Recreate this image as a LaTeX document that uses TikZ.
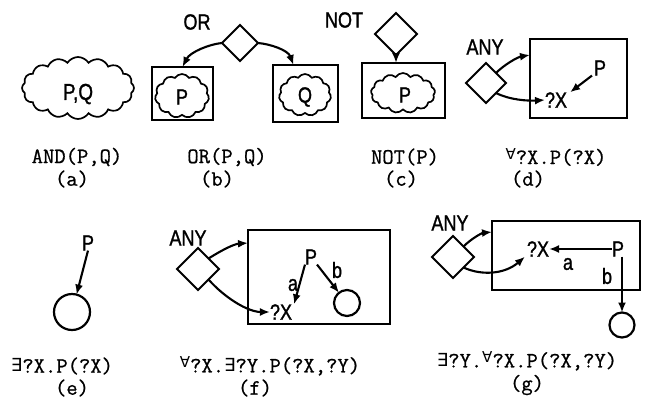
\documentclass[tikz,border=0pt]{standalone}
\usepackage{fontspec}
\newfontfamily\labf[FakeStretch=0.82,FakeBold=1.2]{Liberation Sans}
\newfontfamily\capf[FakeBold=0.8]{Latin Modern Mono}
\newfontfamily\symf{DejaVu Sans}
\usetikzlibrary{shapes.symbols,shapes.geometric,arrows.meta}
\newcommand{\fa}{\raisebox{5pt}{\symf\fontsize{15}{15}\selectfont ∀}}
\newcommand{\ex}{\raisebox{1pt}{\symf\fontsize{18}{18}\selectfont ∃}}
\begin{document}
\begin{tikzpicture}[x=1pt,y=-1pt,
  every node/.style={inner sep=0pt, outer sep=0pt},
  lab/.style={font=\labf\fontsize{22}{22}\selectfont},
  captxt/.style={font=\capf\fontsize{22}{22}\selectfont},
  dia/.style={draw, diamond, aspect=1, line width=2.1pt, minimum width=#1, minimum height=#1},
  dia/.default=40pt,
  box/.style={draw, rectangle, line width=2.2pt},
  cld/.style={draw, cloud, cloud puffs=#1, cloud puff arc=115, cloud ignores aspect, line width=1.7pt},
  cld/.default=11,
  circ/.style={draw, circle, line width=2.2pt},
  arr/.style={-{Latex[length=10pt,width=8pt]}, line width=2.1pt},
]
\useasboundingbox (0,0) rectangle (645,400);

% (a)
\node[cld=16, minimum width=112pt, minimum height=62pt] (cA) at (78,88) {};
\node[lab, font=\labf\fontsize{23}{23}\selectfont] (tA) at (78,94) {P,Q};
\node[captxt] (capA) at (77,157) {AND(P,Q)};
\node[captxt] (subA) at (72,179) {(a)};

% (b)
\node[lab] (orB) at (197,22) {OR};
\node[dia=36pt] (dB) at (240,43) {};
\node[box, minimum width=61pt, minimum height=53pt] (bxP) at (182.5,93.5) {};
\node[box, minimum width=65pt, minimum height=57pt] (bxQ) at (305.5,93.5) {};
\node[cld, minimum width=54pt, minimum height=44pt] (cP) at (182,96) {};
\node[lab] (tP) at (182,97) {P};
\node[cld, minimum width=52pt, minimum height=42pt] (cQ) at (305,95) {};
\node[lab] (tQ) at (305,97) {Q};
\draw[arr] (dB.west) .. controls (210,44) and (190,52) .. (bxP.north);
\draw[arr] (dB.east) .. controls (270,44) and (288,50) .. ([xshift=-12pt]bxQ.north);
\node[captxt] (capB) at (227,157) {OR(P,Q)};
\node[captxt] (subB) at (217,179) {(b)};

% (c)
\node[lab] (notC) at (344,20) {NOT};
\node[dia=42pt] (dN) at (396,34) {};
\node[box, minimum width=83pt, minimum height=55pt] (bxN) at (403.5,90.5) {};
\node[cld=13, minimum width=64pt, minimum height=40pt] (cN) at (403,93) {};
\node[lab] (tN) at (405,95) {P};
\draw[arr] (dN.south) -- (dN.south |- bxN.north);
\node[captxt] (capC) at (405,157) {NOT(P)};
\node[captxt] (subC) at (401,179) {(c)};

% (d)
\node[lab] (anyD) at (485,47) {ANY};
\node[dia=40pt] (dD) at (486,83) {};
\node[box, minimum width=97pt, minimum height=79pt] (bxD) at (578.5,78.5) {};
\coordinate (dT) at (530,55);
\node[lab] (pD) at (600,68) {P};
\node[lab] (xD) at (556,100) {?X};
\draw[arr] (dD.north east) .. controls (505,64) and (518,57) .. (dT);
\draw[arr] (dD.south east) .. controls (510,100) and (528,101) .. (xD.west);
\draw[arr] ([xshift=-2pt]pD.south west) -- ([xshift=3pt]xD.north east);
\node[captxt] (capD) at (556,157) {\fa?X.P(?X)};
\node[captxt] (subD) at (528,179) {(d)};

% (e)
\node[lab] (pE) at (88,243) {P};
\node[circ, minimum size=36pt] (cE) at (72,312) {};
\draw[arr] (pE.south) -- (cE);
\node[captxt] (capE) at (62,366) {\ex?X.P(?X)};
\node[captxt] (subE) at (72,388) {(e)};

% (f)
\node[lab] (anyF) at (188,238) {ANY};
\node[dia=42pt] (dF) at (198,269) {};
\node[box, minimum width=142pt, minimum height=94pt] (bxF) at (319,277) {};
\coordinate (fT) at (248,243);
\node[lab] (pF) at (311,257) {P};
\node[lab] (xF) at (281,312) {?X};
\node[lab] (aF) at (293,285) {a};
\node[lab] (bF) at (337,270) {b};
\node[circ, minimum size=26pt] (cF) at (347,303) {};
\draw[arr] (dF.north east) .. controls (222,250) and (234,244) .. (fT);
\draw[arr] (dF.south east) .. controls (225,298) and (248,312) .. (xF.west);
\draw[arr] (pF.south west) -- ([xshift=2pt]xF.north east);
\draw[arr] (pF.south east) -- (cF);
\node[captxt] (capF) at (270,366) {\fa?X.\ex?Y.P(?X,?Y)};
\node[captxt] (subF) at (255,388) {(f)};

% (g)
\node[lab] (anyG) at (450,223) {ANY};
\node[dia=42pt] (dG) at (453,257) {};
\node[box, minimum width=148pt, minimum height=69pt] (bxG) at (566,255.5) {};
\coordinate (gT) at (492,232);
\node[lab] (xG) at (538,249) {?X};
\node[lab] (pG) at (618,249) {P};
\node[lab] (aG) at (568,264) {a};
\node[lab] (bG) at (607,276) {b};
\node[circ, minimum size=25pt] (cG) at (622,325) {};
\draw[arr] (dG.north east) .. controls (472,238) and (482,233) .. (gT);
\draw[arr] (dG.south east) .. controls (482,276) and (505,274) .. ([xshift=-2pt]xG.south west);
\draw[arr] (pG.west) -- (xG.east);
\draw[arr] (cG.north |- pG.south) -- (cG.north);
\node[captxt] (capG) at (527,361) {\ex?Y.\fa?X.P(?X,?Y)};
\node[captxt] (subG) at (527,385) {(g)};
\end{tikzpicture}
\end{document}
